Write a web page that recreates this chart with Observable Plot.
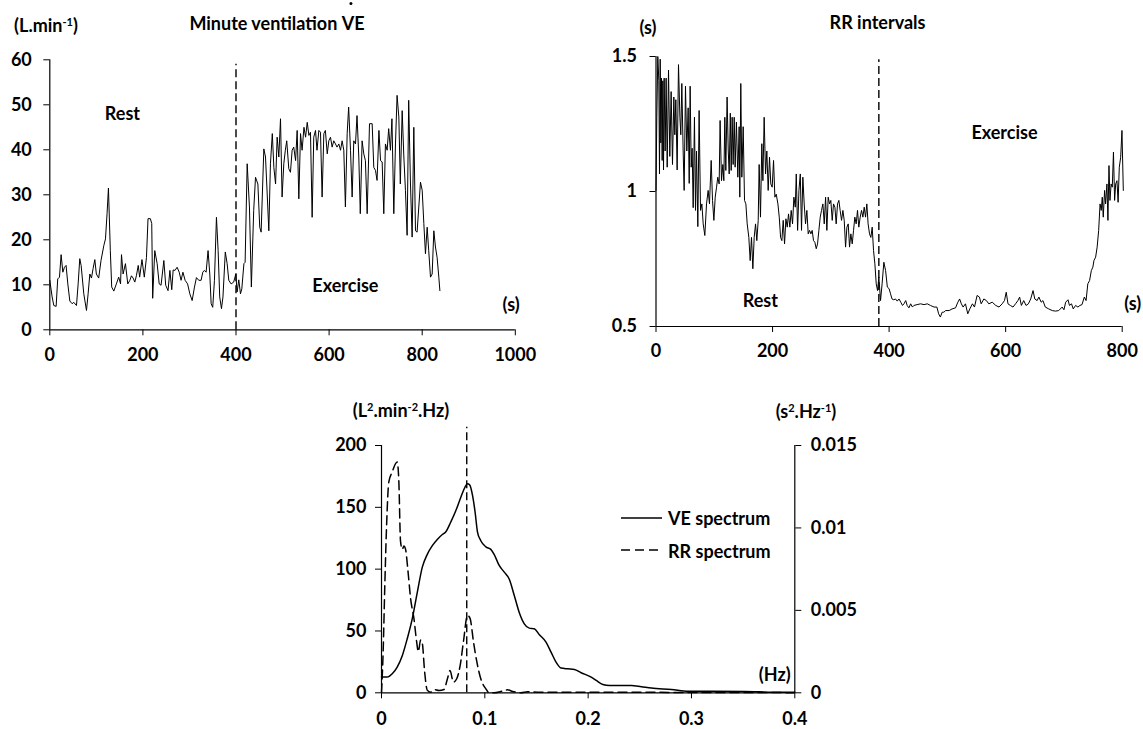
<!DOCTYPE html>
<html>
<head>
<meta charset="utf-8">
<script src="https://cdn.jsdelivr.net/npm/d3@7"></script>
<script src="https://cdn.jsdelivr.net/npm/@observablehq/plot@0.6"></script>
<style>
  html, body { margin: 0; padding: 0; background: #fff; }
  #root { position: relative; width: 1143px; height: 729px; overflow: hidden; font-family: Lato, "Open Sans", sans-serif; font-weight: bold; font-size: 18px; color: #000; }
  .abs { position: absolute; }
  .lbl { position: absolute; transform: translate(-50%, -50%); white-space: nowrap; line-height: 1; }
  .lbl sup { font-size: 11px; vertical-align: 6px; line-height: 0; }
  .vdot { position: relative; display: inline-block; }
  .vdot::after { content: ""; position: absolute; left: 60%; top: -12px; width: 3px; height: 3px; background: #000; border-radius: 50%; }
</style>
</head>
<body>
<div id="root"></div>
<script>
// ---------- DATA ----------
// Minute ventilation VE (L.min-1) vs time (s)
const veTime = [0,5,8.6,13.6,17,20.8,24.3,28,31.5,35,38.7,43,48,51.5,57.3,60.9,64.4,67.3,73,78.8,82.3,86,89.5,93,96.7,100,105,110,116,119.6,123,126,130,133,137.5,143,148,152,154,157.5,162.5,167.5,172,175.4,179,182.6,186,190,193,198,203,207.7,211,216,219,221,225.5,230.6,235,239,245,249,254,258,262,265,269,273.5,278,282,286,290.7,296,300.8,305.8,310.8,315,320,325,328.7,332,335.8,340,343.7,346.6,350,353.7,358,361.6,365,368.8,372,377,381,384.5,389.5,395,399.6,402.4,406,409.6,412.5,417,419.6,424,428.9,433,438,441.9,447,451,454,459.8,463.4,467,470.5,474,478,481.3,485,488.4,492,495.6,499,502.7,506,509,513.4,517,520.6,524,528,531.4,535,538.6,542,546,549.5,553,556.6,560,563.6,567,570.8,574,578,581.5,585,588.7,592,596,599.4,603,606.5,610,613.7,617,620.9,624.5,628,631.6,635,638.8,642,646,649.5,653,656.7,660,663.8,667,670.9,674.5,678,681.8,686.8,692.5,696,699.7,703,707,710.5,714,717.5,721,724.7,728,731.8,735,739,742.6,746,749.8,753,757,760.6,764,767.6,771,774.8,778.4,782,785.6,789,796.3,800,803.5,807,810.7,814,817.8,821.4,825,828.5,832,835.7,838];
const veValue = [11,7.3,5.4,5.2,11.3,11.7,16.7,12.8,13.9,14.3,10.2,6.4,5.8,6.1,5.4,10.2,15.8,14.3,8,4.3,8,12.4,11.5,13.6,15.6,12.4,11.5,15.4,18.7,20.2,25.8,31.5,17.6,9.5,8.6,10.2,11.7,10.2,16.7,12.4,14.7,10.2,11,12,11.5,10.6,12,14.3,11.7,15.6,11.7,16.1,24.7,24.7,23.6,7,17.6,14.7,10.2,9.9,15.4,9.9,8.7,13.2,8.9,13.3,13.2,13.9,12.8,11,12.8,11,10.2,8,6.5,9.5,11.6,11,11,12.8,13.2,12.8,17.6,12.4,5.8,5,11,25,17.6,7.3,4.7,7.3,17.3,14.7,11,10.2,10.6,12.4,8.4,11.1,8,9.1,14.7,15,36.9,27.3,9.5,26.5,33.9,32.4,22.8,21.7,40.2,38.4,30.2,22,36.9,43.6,36.1,32.4,42.8,38.4,46.9,29.5,36.9,39.9,42,35.8,35,39.9,40.6,37.6,44.3,29.1,43.6,39.9,45,42.8,46.1,43.2,43.9,25,42.8,44.3,39.9,44.3,43.9,29.5,43.6,44.3,39.1,42,42.8,40.6,42,41.3,40.6,41.3,39.9,42,39.9,27.3,43.6,49.5,39.9,29.5,42,41.3,47.6,38.4,25.8,42,39.1,37.6,25.8,45.8,45.8,36.1,35.4,33.2,44.3,37.6,37.3,25.8,41.3,39.9,44.7,39.9,46.9,25.8,41.3,52.1,47.3,32.4,48.7,38.4,31,21,51,32.4,20.6,45,22,21.7,32.8,31,23.6,16.9,22.8,17.6,11.7,12.4,22,18.4,16.1,11.7,8.7];
const veXTicks = [0,200,400,600,800,1000];
const veYTicks = [0,10,20,30,40,50,60];
const veOnset = [400];

// RR intervals (s) vs time (s)
const rrTime = [0,1.4,3.1,4.9,6,7.2,8.3,9.4,10.6,11.7,12.9,14,15.7,17.4,19.2,21.5,23.7,26,28.3,30.6,32.3,34,36.3,38.6,41,42.6,44.3,46.6,48.3,50.6,52.9,55.2,57,58.6,60.4,62,63.8,66,67.8,69.5,71.8,74,76.4,78.7,81,83.8,86.7,89.5,91.8,94.7,97,99.3,101.6,103.9,106,108.4,110,112.4,114.7,116.4,118.1,119.8,122,124,125.6,127.5,129,130.7,132.4,134.2,135.8,138,140.4,142.7,143.8,145.5,147.3,149.6,151.9,154.2,156.5,159.3,161.6,163.9,166.2,168.5,170.8,173,175.4,177,179.3,181.6,183.4,185.6,188,190.2,192.5,194.8,197,199.4,201.7,204,206.3,209.2,211.5,213.8,216,218.3,220.6,222.9,225.2,227.4,229.7,232,234.3,236.6,239,240.7,243,245.3,247.6,249.7,252,254.3,256.6,258.9,261.2,263.5,265.8,268,270.3,272.6,275,277.2,279.5,281.8,284,286.4,288.7,291,293.2,295.5,297.8,300,302.4,304.6,307,309.2,311.5,313.8,316,318.4,320.7,323,325.3,327.6,329.9,332.1,334.4,336.7,339,341.2,343.5,345.8,348,350.4,352.7,355,357.3,359.6,361.8,364,366.4,368.7,371,373.3,375.6,377.9,380.2,382.4,385.3,388,391,394,397,400,402.5,405,408,411,414,417,420,423,425.5,428.5,431,434,437,440,442.5,448,454,460,465.5,471,477,482,485,488,491,494,497,503,508,514,518,521,524,527,531,535,538.5,543,546.5,551,555,558,562.6,567,571,577,583,588.6,594,598,601,604,608,612.6,617,621,624,627,631,635,639,643,647,650,654,657,661,664,668,674,680,685.7,691,697,700,703,707,709.5,713,716,720,724,727.4,731,735,738,741,744,747,749.7,751.5,754.4,757,759.6,762,764,765.8,767.5,769.8,771.5,773.8,775.5,777.3,779,781,783,785,787,788.8,791,793,795,797.4,799.6,801.9];
const rrValue = [1.004,1.275,1.5,1.41,1.065,1.49,1.18,1.42,1.115,1.41,1.08,1.42,1.15,1.42,1.09,1.45,1.13,1.37,1.1,1.35,1.21,1.34,1.08,1.47,1.275,1.21,1.4,1.15,1.004,1.39,1.15,1.31,1.03,1.39,1.09,1.16,0.94,1.275,0.93,1.15,0.87,1.3,0.93,0.954,0.88,0.837,0.954,1.004,0.954,1.115,0.967,0.893,0.979,1.016,1.053,1.028,1.263,1.04,1.1,1.04,1.275,1.078,1.35,1.15,1.065,1.29,1.078,1.275,1.1,1.275,1.09,1.257,1.053,1.24,0.979,1.4,1.053,1.24,0.967,0.954,0.88,0.83,0.744,0.83,0.714,0.83,0.88,0.818,0.893,1.1,0.905,1.177,1.04,1.275,1.065,1.15,1.004,1.127,1.028,1.016,1.115,0.979,0.99,0.954,0.905,0.83,0.818,0.893,0.806,0.899,0.868,0.917,0.868,0.93,0.88,0.979,0.942,1.065,0.856,1.004,1.065,0.856,1.053,0.954,0.88,0.93,0.843,0.856,0.843,0.856,0.818,0.812,0.788,0.806,0.856,0.905,0.93,0.954,0.88,0.979,0.856,0.979,0.954,0.967,0.893,0.954,0.942,0.88,0.954,0.967,0.93,0.893,0.93,0.893,0.794,0.868,0.88,0.794,0.843,0.806,0.856,0.905,0.88,0.93,0.868,0.905,0.93,0.905,0.942,0.905,0.954,0.88,0.843,0.83,0.868,0.781,0.732,0.658,0.633,0.683,0.596,0.658,0.738,0.707,0.646,0.64,0.621,0.602,0.599,0.602,0.594,0.602,0.59,0.578,0.584,0.596,0.578,0.569,0.584,0.572,0.578,0.581,0.584,0.581,0.584,0.578,0.572,0.572,0.547,0.535,0.553,0.553,0.559,0.559,0.565,0.569,0.59,0.602,0.584,0.572,0.584,0.547,0.565,0.584,0.572,0.615,0.609,0.584,0.602,0.596,0.584,0.59,0.578,0.572,0.584,0.596,0.627,0.584,0.578,0.572,0.584,0.596,0.609,0.578,0.596,0.578,0.584,0.602,0.633,0.602,0.596,0.609,0.59,0.596,0.572,0.565,0.559,0.557,0.559,0.572,0.562,0.59,0.599,0.578,0.584,0.565,0.578,0.572,0.578,0.581,0.609,0.596,0.658,0.67,0.707,0.72,0.744,0.757,0.794,0.856,0.954,0.93,0.979,0.905,1.004,0.954,1.028,0.893,1.096,0.967,1.028,1.016,1.146,0.967,1.028,1.04,0.96,1.09,1.127,1.226,1.004,1.127];
const rrXTicks = [0,200,400,600,800];
const rrYTicks = [0.5,1,1.5];
const rrOnset = [382.4];

// Spectra
const veFreq = [0,0.0055,0.0104,0.0152,0.0201,0.0249,0.0298,0.0346,0.0395,0.0443,0.0492,0.054,0.0589,0.0621,0.067,0.0718,0.0767,0.0806,0.0832,0.0854,0.088,0.0906,0.0929,0.0961,0.101,0.1058,0.109,0.1139,0.1188,0.1236,0.1285,0.1333,0.1382,0.143,0.1479,0.1528,0.1592,0.1641,0.1689,0.1738,0.1803,0.1867,0.1932,0.2029,0.2078,0.2142,0.2207,0.2417,0.2515,0.2612,0.2806,0.2968,0.3194,0.3518,0.3842,0.4];
const vePower = [12.7,12.7,15.4,20.8,30,43.7,60,81,101.6,112,119,124,128,130,138,147,158,166,169,168,160,146,130,123,118,116,112,103,97.6,92,78.7,65,55.8,52.3,51.8,47,41,32.9,24.8,20,19.4,18.9,16.2,12.7,10,6.7,5.9,5.9,4.9,3.8,2.7,1.3,1.3,1.1,0.5,0.5];
const rrFreq = [0,0.0016,0.0032,0.0049,0.0071,0.0104,0.0136,0.0152,0.0168,0.0184,0.0201,0.0217,0.0233,0.0256,0.0282,0.0314,0.034,0.0356,0.0379,0.0395,0.0417,0.0443,0.0476,0.0508,0.0557,0.0605,0.0638,0.0663,0.0696,0.0728,0.0761,0.0793,0.0832,0.0858,0.089,0.0922,0.0961,0.101,0.1042,0.1091,0.1155,0.122,0.1269,0.135,0.1414,0.151,0.2,0.25,0.3,0.4];
const rrPower = [0,0.0025,0.0065,0.0101,0.0128,0.0134,0.0139,0.014,0.0128,0.0092,0.0087,0.0089,0.0087,0.0074,0.0057,0.0045,0.0031,0.0025,0.0032,0.003,0.0013,0.00015,0.00004,0.0002,0.00014,0.0002,0.00085,0.00135,0.00065,0.00085,0.00165,0.0031,0.0047,0.0045,0.0031,0.0019,0.00085,0.00024,0,0,0.00008,0.00018,0.00008,0,0.00006,0.00004,0.00004,0.00003,0.00002,0.00001];
const specXTicks = [0,0.1,0.2,0.3,0.4];
const veSpecTicks = [0,50,100,150,200];
const rrSpecTicks = [0,0.005,0.01,0.015];
const specPeak = [0.0825];

// ---------- BUILD ----------
const root = document.getElementById("root");
const FS = 18;
const font = {fontFamily: "Lato, 'Open Sans', sans-serif", fontWeight: "bold", fontSize: FS + "px", color: "#000", background: "transparent", overflow: "visible"};

function place(node, left, top) {
  node.style.position = "absolute";
  node.style.left = left + "px";
  node.style.top = top + "px";
  root.appendChild(node);
}
function label(html, cx, cy, extra) {
  const d = document.createElement("div");
  d.className = "lbl";
  d.innerHTML = html;
  d.style.left = cx + "px";
  d.style.top = cy + "px";
  if (extra) Object.assign(d.style, extra);
  root.appendChild(d);
}

const veData = veTime.map((t, i) => ({t, v: veValue[i]}));
const rrData = rrTime.map((t, i) => ({t, v: rrValue[i]}));
const veSpec = veFreq.map((f, i) => ({f, p: vePower[i]}));
const k = 200 / 0.015;
const rrSpec = rrFreq.map((f, i) => ({f, p: rrPower[i] * k}));

// Chart 1: VE
const c1 = Plot.plot({
  width: 560, height: 370,
  marginLeft: 49.3, marginRight: 45.2, marginTop: 59.3, marginBottom: 40.7,
  x: {domain: [0, 1000], label: null},
  y: {domain: [0, 60], label: null},
  style: font,
  marks: [
    Plot.axisX(veXTicks, {tickSize: 6, tickPadding: 12, label: null, tickFormat: d => String(d)}),
    Plot.axisY(veYTicks, {tickSize: 6, tickPadding: 12, label: null, tickFormat: d => String(d)}),
    Plot.ruleY([0], {stroke: "#000", strokeWidth: 1.2}),
    Plot.ruleX([0], {stroke: "#000", strokeWidth: 1.2}),
    Plot.ruleX(veOnset, {y1: 0, y2: 59, stroke: "#000", strokeWidth: 1.4, strokeDasharray: "8,4"}),
    Plot.line(veData, {x: "t", y: "v", stroke: "#000", strokeWidth: 1}),
    Plot.text(["Rest"], {x: 156, y: 48, text: d => d, fontSize: FS, fontWeight: "bold"}),
    Plot.text(["Exercise"], {x: 635, y: 9.7, text: d => d, fontSize: FS, fontWeight: "bold"}),
    Plot.text(["(s)"], {x: 991, y: 5.4, text: d => d, fontSize: FS, fontWeight: "bold"})
  ]
});
place(c1, 0, 0);

// Chart 2: RR
const c2 = Plot.plot({
  width: 563, height: 370,
  marginLeft: 75.5, marginRight: 21.3, marginTop: 56, marginBottom: 44,
  x: {domain: [0, 800], label: null},
  y: {domain: [0.5, 1.5], label: null},
  style: font,
  marks: [
    Plot.axisX(rrXTicks, {tickSize: 6, tickPadding: 12, label: null, tickFormat: d => String(d)}),
    Plot.axisY(rrYTicks, {tickSize: 6, tickPadding: 13, label: null, tickFormat: d => String(d)}),
    Plot.ruleY([0.5], {stroke: "#000", strokeWidth: 1.2}),
    Plot.ruleX([0], {stroke: "#000", strokeWidth: 1.2}),
    Plot.ruleX(rrOnset, {y1: 0.5, y2: 1.488, stroke: "#000", strokeWidth: 1.4, strokeDasharray: "8,4"}),
    Plot.line(rrData, {x: "t", y: "v", stroke: "#000", strokeWidth: 1}),
    Plot.text(["Rest"], {x: 179, y: 0.594, text: d => d, fontSize: FS, fontWeight: "bold"}),
    Plot.text(["Exercise"], {x: 598, y: 1.214, text: d => d, fontSize: FS, fontWeight: "bold"}),
    Plot.text(["(s)"], {x: 818, y: 0.584, text: d => d, fontSize: FS, fontWeight: "bold"})
  ]
});
place(c2, 580, 0);

// Chart 3: spectra
const c3 = Plot.plot({
  width: 580, height: 349,
  marginLeft: 81, marginRight: 85.7, marginTop: 65, marginBottom: 36.7,
  x: {domain: [0, 0.4], label: null},
  y: {domain: [0, 200], label: null},
  style: font,
  marks: [
    Plot.axisX(specXTicks, {tickSize: 6, tickPadding: 13, label: null, tickFormat: d => String(d)}),
    Plot.axisY(veSpecTicks, {tickSize: 6, tickPadding: 9, label: null, tickFormat: d => String(d)}),
    Plot.axisY(rrSpecTicks.map(v => v * k), {anchor: "right", tickSize: 6, tickPadding: 10, label: null, tickFormat: (d) => String(+(d / k).toFixed(3))}),
    Plot.ruleY([0], {stroke: "#000", strokeWidth: 1.2}),
    Plot.ruleX([0, 0.4], {stroke: "#000", strokeWidth: 1.2}),
    Plot.ruleX(specPeak, {y1: 0, y2: 214.8, stroke: "#000", strokeWidth: 1.4, strokeDasharray: "8,4"}),
    Plot.line(veSpec, {x: "f", y: "p", stroke: "#000", strokeWidth: 1.5, curve: "monotone-x"}),
    Plot.line(rrSpec, {x: "f", y: "p", stroke: "#000", strokeWidth: 1.5, strokeDasharray: "9,5", curve: "monotone-x"}),
    Plot.text(["(Hz)"], {x: 0.3806, y: 14, text: d => d, fontSize: FS, fontWeight: "bold"})
  ]
});
place(c3, 300, 380);

// Titles & unit labels
label("(L.min<sup>-1</sup>)", 46, 25);
label("Minute ventilation <span class=\"vdot\">V</span>E", 277, 23);
label("RR intervals", 877.5, 22);
label("(s)", 648, 27);
label("(L<sup>2</sup>.min<sup>-2</sup>.Hz)", 401, 410);
label("(s<sup>2</sup>.Hz<sup>-1</sup>)", 806, 411);

// Legend
const ns = "http://www.w3.org/2000/svg";
const leg = document.createElementNS(ns, "svg");
leg.setAttribute("width", 50); leg.setAttribute("height", 50);
[[8, "none"], [40, "9,5"]].forEach(([y, dash]) => {
  const l = document.createElementNS(ns, "line");
  l.setAttribute("x1", 1); l.setAttribute("x2", 42);
  l.setAttribute("y1", y); l.setAttribute("y2", y);
  l.setAttribute("stroke", "#000"); l.setAttribute("stroke-width", 1.5);
  if (dash !== "none") l.setAttribute("stroke-dasharray", dash);
  leg.appendChild(l);
});
place(leg, 620, 510);
const lt1 = document.createElement("div"); lt1.textContent = "VE spectrum"; lt1.className = "abs";
lt1.style.left = "668px"; lt1.style.top = "507px"; root.appendChild(lt1);
const lt2 = document.createElement("div"); lt2.textContent = "RR spectrum"; lt2.className = "abs";
lt2.style.left = "668px"; lt2.style.top = "540px"; root.appendChild(lt2);
</script>
</body>
</html>
